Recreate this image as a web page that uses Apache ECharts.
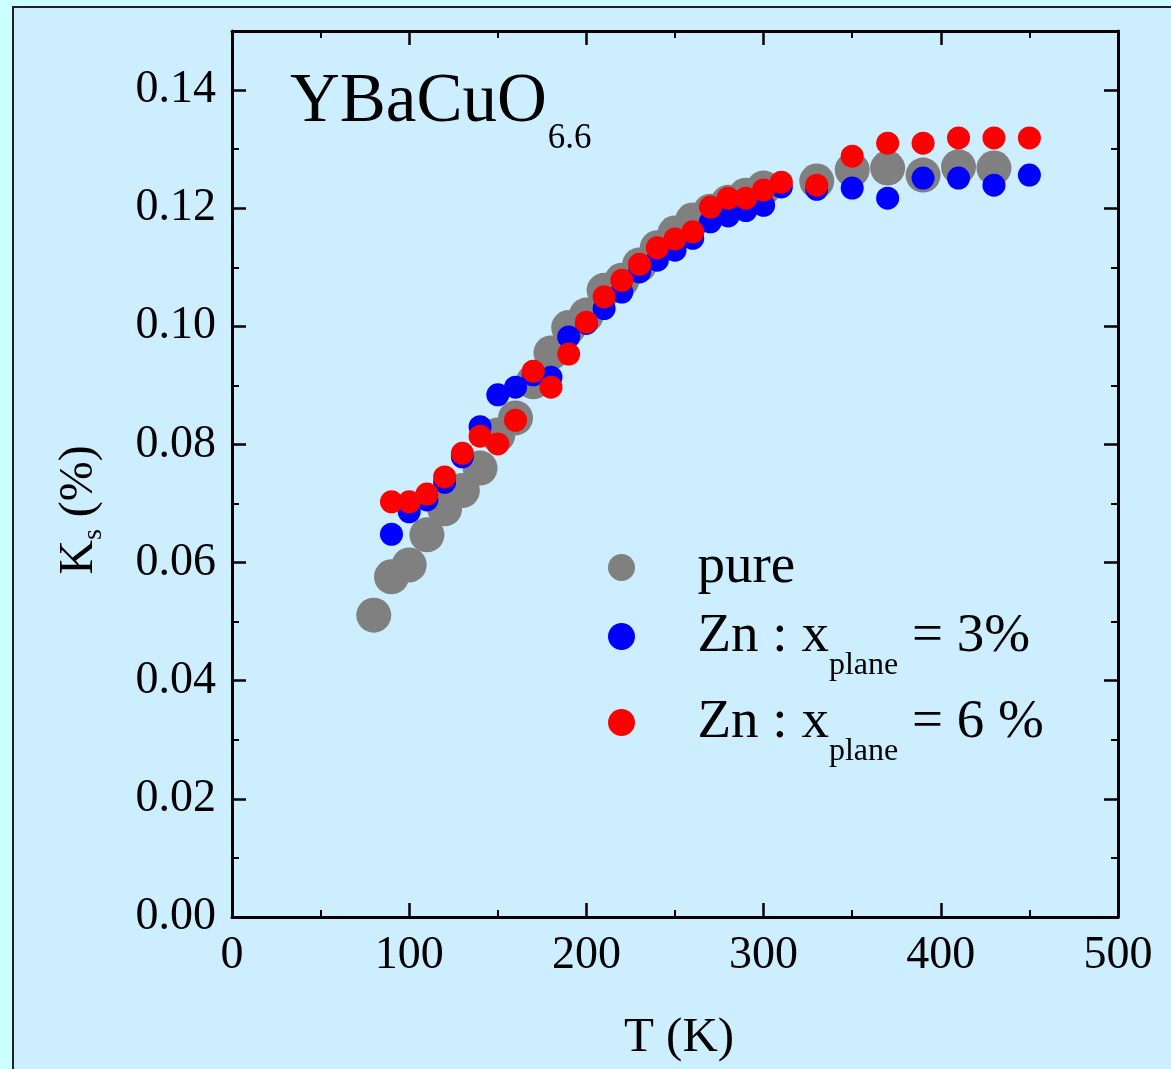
<!DOCTYPE html>
<html><head><meta charset="utf-8">
<script src="https://cdn.jsdelivr.net/npm/echarts@6/dist/echarts.min.js"></script>
<style>html,body{margin:0;padding:0;background:#ccffff;}#c{width:1171px;height:1069px;}</style>
</head><body><div id="c"></div>
<script>
const T_pure = [80,90,100,110,120,130,140,150,160,170,180,190,200,210,220,230,240,250,260,270,280,290,300,330,350,370,390,410,430];
const K_pure = [0.0511,0.0576,0.0596,0.0647,0.0691,0.0722,0.0760,0.0816,0.0845,0.0906,0.0955,0.0998,0.1019,0.1061,0.1078,0.1104,0.1133,0.1158,0.1180,0.1195,0.1210,0.1222,0.1234,0.1246,0.1265,0.1268,0.1256,0.1270,0.1268];
const T_zn3 = [90,100,110,120,130,140,150,160,170,180,190,200,210,220,230,240,250,260,270,280,290,300,310,330,350,370,390,410,430,450];
const K_zn3 = [0.0648,0.0686,0.0706,0.0736,0.0779,0.0830,0.0884,0.0897,0.0918,0.0914,0.0982,0.1005,0.1030,0.1058,0.1092,0.1112,0.1129,0.1149,0.1177,0.1187,0.1196,0.1205,0.1236,0.1232,0.1234,0.1217,0.1251,0.1251,0.1239,0.1256];
const T_zn6 = [90,100,110,120,130,140,150,160,170,180,190,200,210,220,230,240,250,260,270,280,290,300,310,330,350,370,390,410,430,450];
const K_zn6 = [0.0703,0.0703,0.0716,0.0745,0.0785,0.0814,0.0801,0.0841,0.0924,0.0897,0.0953,0.1007,0.1050,0.1078,0.1105,0.1133,0.1148,0.1160,0.1202,0.1217,0.1217,0.1231,0.1244,0.1239,0.1288,0.1310,0.1310,0.1319,0.1319,0.1319];
const seriesNames = ['pure','Zn3','Zn6'];
const xTicks = [0,100,200,300,400,500];
const yTicks = ['0.00','0.02','0.04','0.06','0.08','0.10','0.12','0.14'];

const FONT = '"Liberation Serif","Times New Roman",serif';
const zip = (a,b)=>a.map((v,i)=>[v,b[i]]);
const chart = echarts.init(document.getElementById('c'), null, {renderer:'canvas'});
const axisLine = {show:true, onZero:false, lineStyle:{color:'#000', width:3}};
const tick = {inside:true, length:14, lineStyle:{width:2.5,color:'#000'}};
const minor = {show:true, splitNumber:2, length:7, lineStyle:{width:2,color:'#000'}};
const legendRich = {
  m:{fontFamily:FONT, fontSize:55, color:'#000', lineHeight:55},
  s:{fontFamily:FONT, fontSize:32, color:'#000', padding:[58,0,0,0]}
};
const legendLabels = {
  'pure':'{m|pure}',
  'Zn3':'{m|Zn : x}{s|plane}{m| = 3%}',
  'Zn6':'{m|Zn : x}{s|plane}{m| = 6 %}'
};
function mkLegend(name, top){
  return {data:[name], orient:'vertical', left:608, top:top, padding:0,
    icon:'circle', itemWidth:142, itemHeight:27, selectedMode:false,
    formatter:n=>legendLabels[n], textStyle:{fontFamily:FONT, fontSize:55, color:'#000', rich:legendRich}};
}
chart.setOption({
  backgroundColor:'#ccffff',
  animation:false,
  graphic:[{type:'rect', z:-10, shape:{x:13,y:7,width:1200,height:1100}, style:{fill:'#cceeff', stroke:'#222', lineWidth:2}}],
  title:{text:'{a|YBaCuO}{b|6.6}', left:290, top:49, padding:0,
    textStyle:{fontWeight:'normal', rich:{a:{fontFamily:FONT,fontSize:69,fontWeight:'normal',color:'#000',lineHeight:69},b:{fontFamily:FONT,fontSize:35,fontWeight:'normal',color:'#000',padding:[72,0,0,1]}}}},
  legend:[mkLegend('pure',540), mkLegend('Zn3',609), mkLegend('Zn6',695)],
  grid:{left:232, top:31, right:53, bottom:152, containLabel:false},
  xAxis:[{type:'value', min:0, max:500, interval:100, position:'bottom',
      name:'T (K)', nameLocation:'middle', nameGap:97,
      nameTextStyle:{fontFamily:FONT, fontSize:49, color:'#000', padding:[0,0,0,8]},
      axisLine:axisLine, axisTick:tick, minorTick:minor, splitLine:{show:false},
      axisLabel:{fontFamily:FONT, fontSize:46, color:'#000', margin:16, formatter:v=>String(xTicks[xTicks.indexOf(v)] ?? v)}},
    {type:'value', min:0, max:500, interval:100, position:'top',
      axisLine:axisLine, axisTick:tick, minorTick:minor, splitLine:{show:false}, axisLabel:{show:false}}],
  yAxis:[{type:'value', min:0, max:0.15, interval:0.02, position:'left',
      name:'{a|K}{s|s}{a| (%)}', nameLocation:'middle', nameGap:124, nameRotate:90,
      nameTextStyle:{padding:[0,72,0,0], rich:{a:{fontFamily:FONT,fontSize:48,color:'#000',lineHeight:48},s:{fontFamily:FONT,fontSize:28,color:'#000',padding:[30,0,0,0]}}},
      axisLine:axisLine, axisTick:tick, minorTick:minor, splitLine:{show:false},
      axisLabel:{fontFamily:FONT, fontSize:46, color:'#000', margin:16, formatter:v=>{const s=v.toFixed(2);return yTicks.includes(s)?s:'';}}},
    {type:'value', min:0, max:0.15, interval:0.02, position:'right',
      axisLine:axisLine, axisTick:tick, minorTick:minor, splitLine:{show:false}, axisLabel:{show:false}}],
  series:[
    {name:seriesNames[0], type:'scatter', data:zip(T_pure,K_pure), symbol:'circle', symbolSize:35, itemStyle:{color:'#808080', opacity:1}, z:2},
    {name:seriesNames[1], type:'scatter', data:zip(T_zn3,K_zn3), symbol:'circle', symbolSize:23, itemStyle:{color:'#0000ff', opacity:1}, z:3},
    {name:seriesNames[2], type:'scatter', data:zip(T_zn6,K_zn6), symbol:'circle', symbolSize:23, itemStyle:{color:'#ff0000', opacity:1}, z:4}
  ]
});
</script></body></html>
